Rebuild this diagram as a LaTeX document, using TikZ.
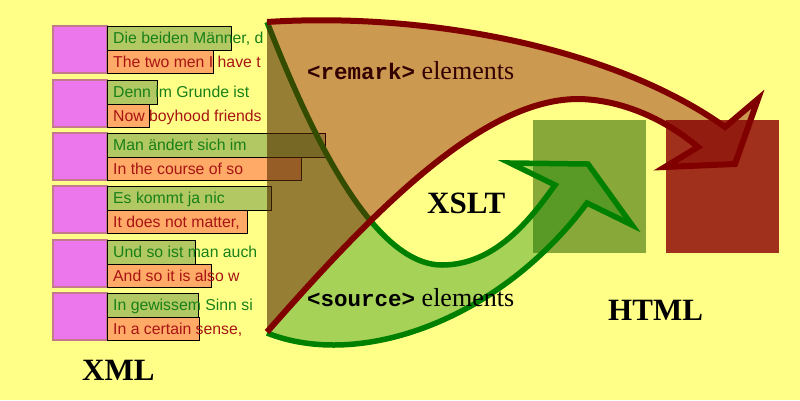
\documentclass[tikz,border=0pt]{standalone}
\usepackage{fontspec}
\setmainfont{Liberation Serif}
\newfontfamily\rowfont{Liberation Sans}
\newfontfamily\tagfont{Liberation Mono}
\definecolor{bgyellow}{RGB}{255,255,136}
\definecolor{magfill}{RGB}{236,118,236}
\definecolor{magborder}{RGB}{196,122,140}
\definecolor{gboxfill}{RGB}{178,200,98}
\definecolor{oboxfill}{RGB}{255,170,102}
\definecolor{gtxt}{RGB}{24,128,24}
\definecolor{otxt}{RGB}{168,20,20}
\definecolor{darkred}{RGB}{128,0,0}
\definecolor{dgreen}{RGB}{0,128,0}
\definecolor{gsq}{RGB}{136,168,58}
\definecolor{rsq}{RGB}{160,48,28}
\tikzset{
  magbox/.style={draw=magborder, line width=1.5pt, fill=magfill, minimum width=54pt, minimum height=47pt, inner sep=0pt, outer sep=0pt, anchor=north west},
  gbox/.style={draw=black, line width=1pt, fill=gboxfill, minimum height=24pt, inner sep=0pt, outer sep=0pt, anchor=north west},
  obox/.style={draw=black, line width=1pt, fill=oboxfill, minimum height=23.5pt, inner sep=0pt, outer sep=0pt, anchor=north west},
  gtext/.style={font=\rowfont\fontsize{15.8}{18}\selectfont, text=gtxt, anchor=base west, inner sep=0pt},
  otext/.style={font=\rowfont\fontsize{15.8}{18}\selectfont, text=otxt, anchor=base west, inner sep=0pt},
  sqbox/.style={minimum width=113pt, minimum height=133pt, inner sep=0pt, outer sep=0pt, anchor=north west},
  biglabel/.style={font=\bfseries\fontsize{31}{36}\selectfont, anchor=base west, inner sep=0pt},
  elabel/.style={anchor=base west, inner sep=0pt, text=black},
  srcfill/.style={fill=dgreen, fill opacity=0.35},
  srcline/.style={draw=dgreen, line width=5.5pt, miter limit=10},
  remfill/.style={fill=darkred, fill opacity=0.4},
  remline/.style={draw=darkred, line width=6pt, miter limit=10}
}
\newcommand\mkrow[6]{%
  \node[magbox] (m#1) at (53,#2) {};
  \node[gbox, minimum width=#3pt] (g#1) at (107,#2) {};
  \node[obox, minimum width=#4pt] (o#1) at (107,#2+24) {};
  \begin{scope}
    \clip (0,0) rectangle (266,400);
    \node[gtext] (tg#1) at (113,#2+17) {#5};
    \node[otext] (to#1) at (113,#2+41) {#6};
  \end{scope}
}
\newcommand\remtag{{\tagfont\bfseries\fontsize{22.5}{26}\selectfont <remark>}}
\newcommand\srctag{{\tagfont\bfseries\fontsize{22.5}{26}\selectfont <source>}}
\newcommand\elemword{\hspace{6.5pt}{\fontsize{26}{30}\selectfont elements}}
\begin{document}
\begin{tikzpicture}[x=1pt,y=-1pt]
\fill[bgyellow] (0,0) rectangle (800,400);
\useasboundingbox (0,0) rectangle (800,400);

% XML rows
\mkrow{1}{26}{124}{106}{Die beiden Männer, d}{The two men I have t}
\mkrow{2}{80}{50}{42}{Denn im Grunde ist}{Now boyhood friends}
\mkrow{3}{133}{218}{194}{Man ändert sich im}{In the course of so}
\mkrow{4}{186}{164}{140}{Es kommt ja nic}{It does not matter,}
\mkrow{5}{240}{88}{104}{Und so ist man auch}{And so it is also w}
\mkrow{6}{293}{91}{92}{In gewissem Sinn si}{In a certain sense,}

% HTML squares
\node[sqbox, fill=gsq] (gs) at (533,120) {};
\node[sqbox, fill=rsq] (rs) at (666,120) {};

% key points
\coordinate (lt) at (267,22);
\coordinate (lb) at (267,333);
\coordinate (lbr) at (267,332);
\coordinate (gmin) at (442,265);
\coordinate (gn1) at (555,185);
\coordinate (gb1) at (510,163);
\coordinate (gtip) at (588,164);
\coordinate (gb2) at (632,225);
\coordinate (gn2) at (587,203);
\coordinate (rn1) at (725,127);
\coordinate (rb1) at (758,99);
\coordinate (rtip) at (735,164);
\coordinate (rb2) at (665,167);
\coordinate (rn2) at (698,147);
\coordinate (rpeak) at (577,99);

% source arrow
\path[srcfill] (lt) .. controls (298,100) and (365,265) .. (gmin)
  .. controls (495,265) and (530,220) .. (gn1) -- (gb1) -- (gtip) -- (gb2) -- (gn2)
  .. controls (500,320) and (360,370) .. (lb) -- cycle;
\path[srcline] (lt) .. controls (298,100) and (365,265) .. (gmin)
  .. controls (495,265) and (530,220) .. (gn1) -- (gb1) -- (gtip) -- (gb2) -- (gn2)
  .. controls (500,320) and (360,370) .. (lb);

\node[elabel] (srclab) at (307,306) {\srctag\elemword};
\node[elabel] (remlab) at (307,79) {\remtag\elemword};

% remark arrow
\path[remfill] (lt) .. controls (420,12) and (610,45) .. (rn1) -- (rb1) -- (rtip) -- (rb2) -- (rn2)
  .. controls (660,115) and (615,99) .. (rpeak)
  .. controls (480,100) and (370,215) .. (lbr) -- cycle;
\path[remline] (lt) .. controls (420,12) and (610,45) .. (rn1) -- (rb1) -- (rtip) -- (rb2) -- (rn2)
  .. controls (660,115) and (615,99) .. (rpeak)
  .. controls (480,100) and (370,215) .. (lbr);

% labels
\node[biglabel] (xslt) at (427,213) {XSLT};
\node[biglabel] (html) at (608,320) {HTML};
\node[biglabel] (xml) at (82,380) {XML};
\end{tikzpicture}
\end{document}
